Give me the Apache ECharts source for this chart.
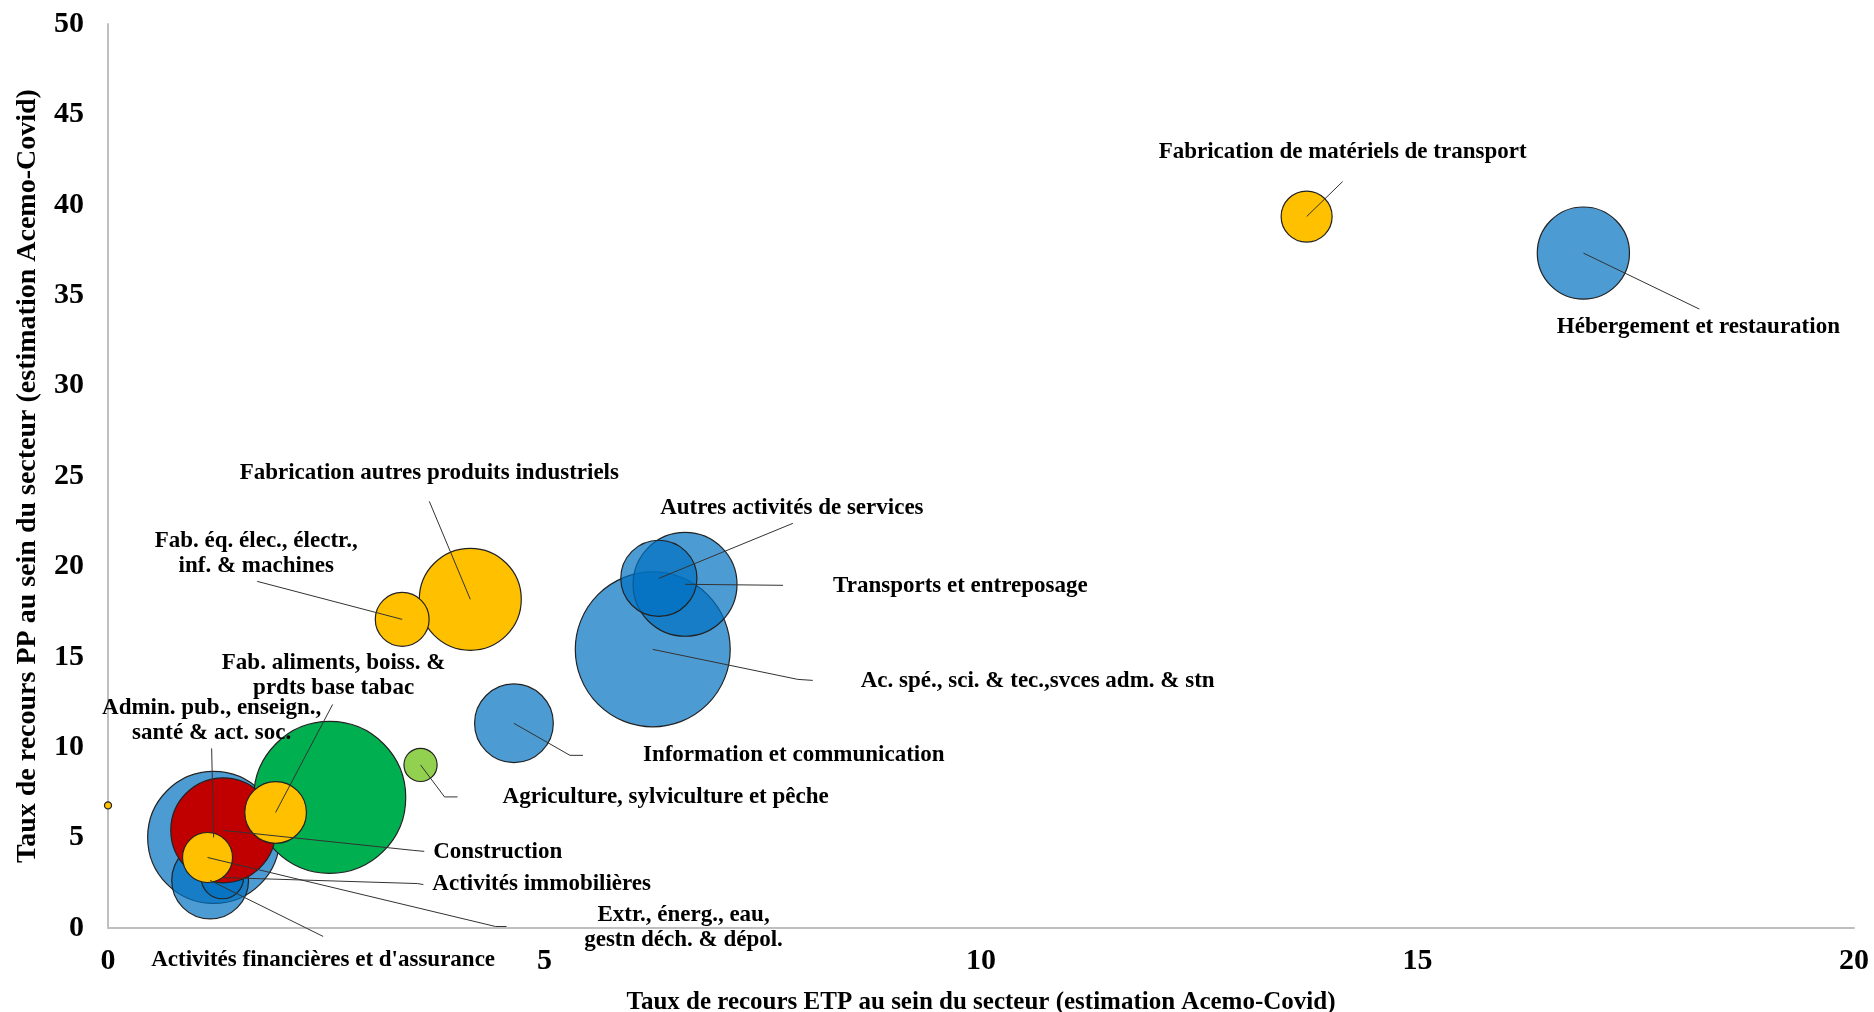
<!DOCTYPE html>
<html>
<head>
<meta charset="utf-8">
<script src="https://cdn.jsdelivr.net/npm/echarts@6/dist/echarts.min.js"></script>
<style>
html, body { margin: 0; padding: 0; background: #fff; }
#chart { width: 1874px; height: 1012px; }
</style>
</head>
<body>
<div id="chart"></div>
<script>
// secteurs, dans l'ordre de tracé (bleus d'abord, jaunes au-dessus)
const sectors = [
  'Hébergement et restauration',
  'Ac. spé., sci. & tec.,svces adm. & stn',
  'Transports et entreposage',
  'Autres activités de services',
  'Information et communication',
  'Admin. pub., enseign.,\nsanté & act. soc.',
  "Activités financières et d'assurance",
  'Activités immobilières',
  'Commerce',
  'Agriculture, sylviculture et pêche',
  'Construction',
  'Fabrication de matériels de transport',
  'Fabrication autres produits industriels',
  'Fab. éq. élec., électr.,\ninf. & machines',
  'Fab. aliments, boiss. &\nprdts base tabac',
  'Extr., énerg., eau,\ngestn déch. & dépol.',
  'Cokéfaction et raffinage'
]
const etp = [16.90, 6.24, 6.61, 6.31, 4.65, 1.21, 1.17, 1.31, 2.54, 3.58, 1.32, 13.73, 4.15, 3.37, 1.92, 1.14, 0.00]
const pp = [37.33, 15.41, 19.01, 19.34, 11.32, 5.01, 2.63, 2.79, 7.22, 9.02, 5.40, 39.35, 18.18, 17.07, 6.39, 3.90, 6.78]
const effectif = [85, 240, 108, 58, 62, 174, 59, 18, 231, 11, 110, 26, 104, 29, 38, 25, 0.5]
const groups = ['services', 'services', 'services', 'services', 'services', 'services', 'services', 'services',
  'commerce', 'agri', 'construction', 'industrie', 'industrie', 'industrie', 'industrie', 'industrie', 'industrie']
const showLabel = [true, true, true, true, true, true, true, true, false, true, true, true, true, true, true, true, false]

const xTicks = { min: 0, max: 20, interval: 5 }
const yTicks = { min: 0, max: 50, interval: 5 }

const groupColors = {
  services: 'rgba(0,112,192,0.7)',
  commerce: '#00B050',
  agri: '#92D050',
  construction: '#C00000',
  industrie: '#FFC000'
}

// position des étiquettes et des traits de rappel, en pixels par rapport au centre de la bulle
const labelLayout = [
  { dx: 115, dy: 74, align: 'center', pts: [[116, 56]] },
  { dx: 208, dy: 32, align: 'left', pts: [[145, 30], [160, 31]] },
  { dx: 148, dy: 2, align: 'left', pts: [[98, 1]] },
  { dx: 133, dy: -70, align: 'center', pts: [[134, -55]] },
  { dx: 129, dy: 32, align: 'left', pts: [[56, 32], [69, 32]] },
  { dx: -2, dy: -117, align: 'center', pts: [[-2, -89]] },
  { dx: 113, dy: 80, align: 'center', pts: [[113, 56]] },
  { dx: 210, dy: 7, align: 'left', pts: [[195, 6], [201, 7]] },
  null,
  { dx: 82, dy: 32, align: 'left', pts: [[24, 32], [37, 32]] },
  { dx: 210, dy: 22, align: 'left', pts: [[190, 20], [201, 21]] },
  { dx: 36, dy: -64, align: 'center', pts: [[36, -35]] },
  { dx: -41, dy: -126, align: 'center', pts: [[-41, -98]] },
  { dx: -146, dy: -66, align: 'center', pts: [[-145, -38]] },
  { dx: 58, dy: -137, align: 'center', pts: [[57, -108]] },
  { dx: 476, dy: 70, align: 'center', pts: [[288, 69], [299, 69]] },
  null
]

const FONT = '"Liberation Serif", "Times New Roman", serif'

const chart = echarts.init(document.getElementById('chart'))

const bubbleData = sectors.map((name, i) => ({
  name: name,
  value: [etp[i], pp[i], effectif[i]],
  itemStyle: { color: groupColors[groups[i]] }
}))

const labelData = sectors.map((name, i) => [etp[i], pp[i], i])

const renderLabel = (params, api) => {
  const i = api.value(2)
  const lay = labelLayout[i]
  if (!showLabel[i] || !lay) return null
  const c = api.coord([api.value(0), api.value(1)])
  const points = [c].concat(lay.pts.map(p => [c[0] + p[0], c[1] + p[1]]))
  return {
    type: 'group',
    children: [
      {
        type: 'polyline',
        shape: { points: points },
        style: { stroke: '#333', lineWidth: 1, fill: null }
      },
      {
        type: 'text',
        x: c[0] + lay.dx,
        y: c[1] + lay.dy,
        style: {
          text: sectors[i],
          align: lay.align,
          verticalAlign: 'middle',
          font: 'bold 23px ' + FONT,
          lineHeight: 25,
          fill: '#000'
        }
      }
    ]
  }
}

const option = {
  backgroundColor: '#fff',
  animation: false,
  grid: {
    left: 108,
    right: 20,
    top: 24,
    bottom: 84,
    outerBoundsMode: 'none'
  },
  xAxis: {
    type: 'value',
    min: xTicks.min,
    max: xTicks.max,
    interval: xTicks.interval,
    name: 'Taux de recours ETP au sein du secteur (estimation Acemo-Covid)',
    nameLocation: 'middle',
    nameGap: 62,
    nameTextStyle: { fontFamily: FONT, fontWeight: 'bold', fontSize: 25, color: '#000' },
    axisLine: { lineStyle: { color: '#bfbfbf', width: 2 } },
    axisTick: { show: false },
    splitLine: { show: false },
    axisLabel: { fontFamily: FONT, fontWeight: 'bold', fontSize: 30, color: '#000', margin: 18 }
  },
  yAxis: {
    type: 'value',
    min: yTicks.min,
    max: yTicks.max,
    interval: yTicks.interval,
    name: 'Taux de recours PP au sein du secteur (estimation Acemo-Covid)',
    nameLocation: 'middle',
    nameGap: 66,
    nameTextStyle: { fontFamily: FONT, fontWeight: 'bold', fontSize: 28, color: '#000' },
    axisLine: { show: true, lineStyle: { color: '#bfbfbf', width: 2 } },
    axisTick: { show: false },
    splitLine: { show: false },
    axisLabel: { fontFamily: FONT, fontWeight: 'bold', fontSize: 30, color: '#000', margin: 24 }
  },
  series: [
    {
      type: 'scatter',
      data: bubbleData,
      symbolSize: val => 10 * Math.sqrt(val[2]),
      clip: false,
      itemStyle: { borderColor: '#222', borderWidth: 1.2, opacity: 1 },
      emphasis: { disabled: true }
    },
    {
      type: 'custom',
      data: labelData,
      encode: { x: 0, y: 1 },
      clip: false,
      z: 5,
      renderItem: renderLabel
    }
  ]
}

chart.setOption(option)
window.addEventListener('resize', () => chart.resize())
</script>
</body>
</html>
